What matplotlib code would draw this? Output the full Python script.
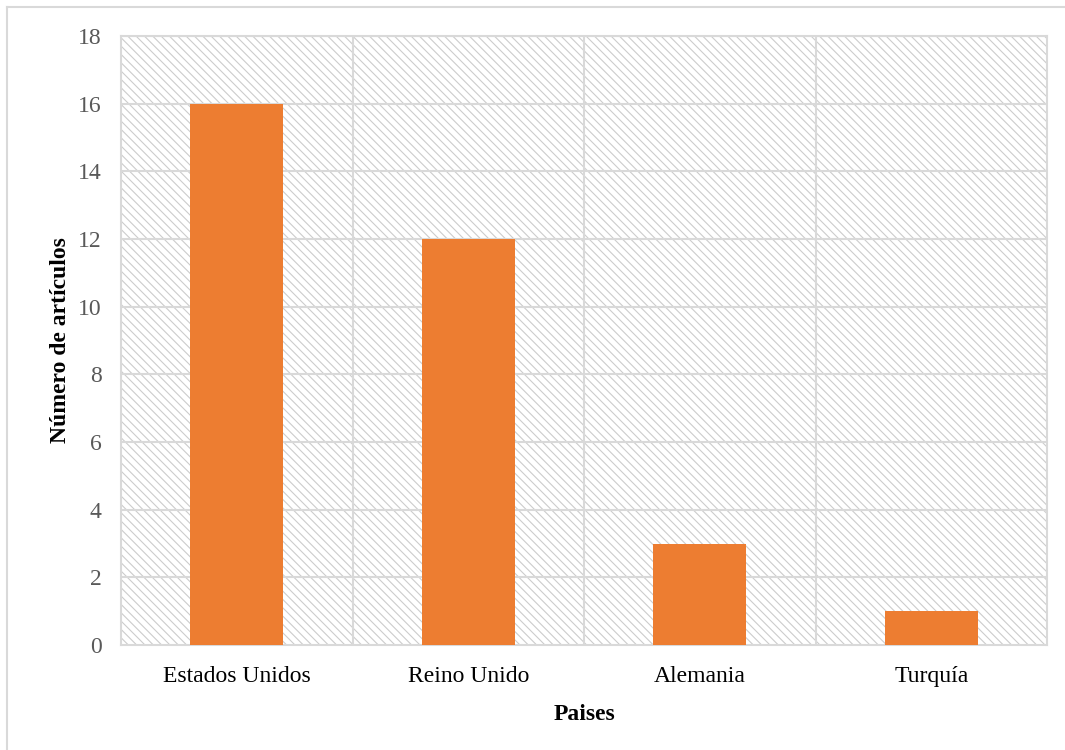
import matplotlib.pyplot as plt
from matplotlib.patches import Rectangle
from matplotlib.lines import Line2D

paises = ['Estados Unidos', 'Reino Unido', 'Alemania', 'Turquía']
articulos = [16, 12, 3, 1]

plt.rcParams['font.family'] = ['Liberation Serif', 'DejaVu Serif']
plt.rcParams['hatch.linewidth'] = 0.8

fig = plt.figure(figsize=(10.65, 7.5), dpi=100)
ax = fig.add_axes([121 / 1065, 1 - 645 / 750, (1047 - 121) / 1065, (645 - 36) / 750])

# light grey diagonal hatch behind everything
ax.add_patch(Rectangle((0, 0), 1, 1, transform=ax.transAxes, facecolor='white',
                       edgecolor='#cccccc', hatch='\\\\\\\\', linewidth=0, zorder=0))

x = range(len(paises))
ax.bar(x, articulos, width=0.4, color='#ed7d31', zorder=3)

ax.set_xlim(-0.5, len(paises) - 0.5)
ax.set_ylim(0, 18)
ax.set_yticks(range(0, 19, 2))
ax.set_xticks(list(x))
ax.set_xticklabels(paises)

# horizontal grid + vertical separators between categories
for y in range(2, 19, 2):
    ax.axhline(y, color='#d9d9d9', linewidth=1.5, zorder=1)
for b in [0.5, 1.5, 2.5]:
    ax.axvline(b, color='#d9d9d9', linewidth=1.5, zorder=1)

for s in ax.spines.values():
    s.set_color('#d9d9d9')
    s.set_linewidth(1.5)

ax.tick_params(axis='both', length=0)
ax.tick_params(axis='y', labelsize=17, labelcolor='#595959', pad=14)
ax.tick_params(axis='x', labelsize=17, labelcolor='black', pad=15)

ax.set_xlabel('Paises', fontsize=17, fontweight='bold', labelpad=12)
ax.set_ylabel('Número de artículos', fontsize=17, fontweight='bold', labelpad=5)

# chart area border
fig.add_artist(Line2D([7 / 1065, 7 / 1065], [0, 1 - 7 / 750], transform=fig.transFigure,
                      color='#d9d9d9', linewidth=1.5))
fig.add_artist(Line2D([7 / 1065, 1], [1 - 7 / 750, 1 - 7 / 750], transform=fig.transFigure,
                      color='#d9d9d9', linewidth=1.5))

plt.savefig('out.png', dpi=100)
